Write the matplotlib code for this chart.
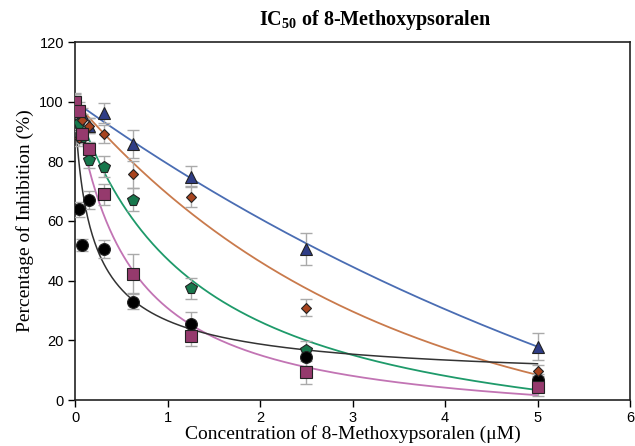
import numpy as np
import matplotlib.pyplot as plt

plt.rcParams['mathtext.fontset'] = 'custom'
plt.rcParams['mathtext.rm'] = 'Liberation Serif'
plt.rcParams['mathtext.bf'] = 'Liberation Serif:bold'

# concentrations (uM)
conc = [0, 0.039, 0.078, 0.156, 0.3125, 0.625, 1.25, 2.5, 5]

# percentage of inhibition, one list per series
circle_y = [100, 64, 52, 67, 50.5, 33, 25.5, 14.5, 6.7]
circle_err = [2, 2.5, 2, 3, 3, 2.5, 4, 3, 2]

square_y = [100, 97, 89, 84, 69, 42.3, 21.5, 9.3, 4.5]
square_err = [2.5, 2, 3, 2.5, 3.5, 6.5, 3.5, 3.8, 3]

pent_y = [100, 93, 88, 80.3, 78.2, 67.2, 37.4, 16.8, 6.0]
pent_err = [2, 2, 2, 2.5, 3.5, 4, 3.5, 3, 2]

diam_y = [100, 87.7, 94, 92, 89.3, 75.7, 68.2, 31, 9.8]
diam_err = [2, 2.5, 2, 2.5, 3, 4.5, 3.6, 2.8, 2]

tri_y = [100, 98, 96, 92, 96.1, 85.8, 74.9, 50.6, 17.8]
tri_err = [3, 2, 2, 2.5, 3.3, 4.7, 3.5, 5.4, 4.5]

# fitted curve parameters
# exponential decay: y0 + a*exp(-k x)
tri_fit = (-74.9, 174.9, 0.1268)
diam_fit = (-16.6, 116.6, 0.308)
# four parameter logistic: bottom, top, ic50, hill
pent_fit = (-22, 100, 1.31, 1.0)
square_fit = (-10, 100, 0.59, 1.0)
circle_fit = (5, 100, 0.2168, 0.8)


def exp_decay(x, p):
    y0, a, k = p
    return y0 + a * np.exp(-k * x)


def logistic4(x, p):
    bottom, top, c, h = p
    return bottom + (top - bottom) / (1 + (x / c) ** h)


fig = plt.figure(figsize=(6.35, 4.46), dpi=100)
ax = fig.add_axes([75 / 635, 46 / 446, 555 / 635, 358 / 446])

xs = np.linspace(0, 5, 400)
ax.plot(xs, exp_decay(xs, tri_fit), color='#4a6db3', lw=1.3, zorder=2)
ax.plot(xs, exp_decay(xs, diam_fit), color='#c97a4c', lw=1.3, zorder=2)
ax.plot(xs, logistic4(xs, pent_fit), color='#1e9a6a', lw=1.3, zorder=2)
ax.plot(xs, logistic4(xs, square_fit), color='#c274b4', lw=1.3, zorder=2)
ax.plot(xs, logistic4(xs, circle_fit), color='#333333', lw=1.1, zorder=2)

series = [
    (tri_y, tri_err, '^', '#2f3d86', 9),
    (pent_y, pent_err, 'p', '#17774c', 8.5),
    (circle_y, circle_err, 'o', '#000000', 8.5),
    (diam_y, diam_err, 'D', '#a8441f', 5.5),
    (square_y, square_err, 's', '#953a6d', 8.5),
]
for i, (y, e, m, c, ms) in enumerate(series):
    ax.errorbar(conc, y, yerr=e, fmt='none', ecolor='#aaaaaa', elinewidth=1,
                capsize=4, capthick=1, zorder=3 + i)
    ax.plot(conc, y, m, color=c, markersize=ms, markeredgecolor='#222222',
            markeredgewidth=0.8, zorder=10 + i)

ax.set_xlim(0, 6)
ax.set_ylim(0, 120)
ax.set_xticks(range(0, 7))
ax.set_yticks(range(0, 121, 20))
ax.tick_params(direction='out', length=5, width=1, labelsize=10.5, pad=3)
for lab in ax.get_xticklabels() + ax.get_yticklabels():
    lab.set_family('Liberation Sans')
for s in ax.spines.values():
    s.set_linewidth(1.2)
    s.set_color('#222222')

ax.set_xlabel('Concentration of 8-Methoxypsoralen (\u03bcM)',
              family='Liberation Serif', fontsize=14, labelpad=0)
ax.set_ylabel('Percentage of Inhibition (%)', family='Liberation Serif',
              fontsize=14, labelpad=4)
fig.text(375 / 635, 1 - 20 / 446, 'IC$_{\\mathbf{50}}$ of 8-Methoxypsoralen',
         family='Liberation Serif', fontsize=14.5, fontweight='bold',
         ha='center', va='center')

fig.savefig('out.png', dpi=100)
